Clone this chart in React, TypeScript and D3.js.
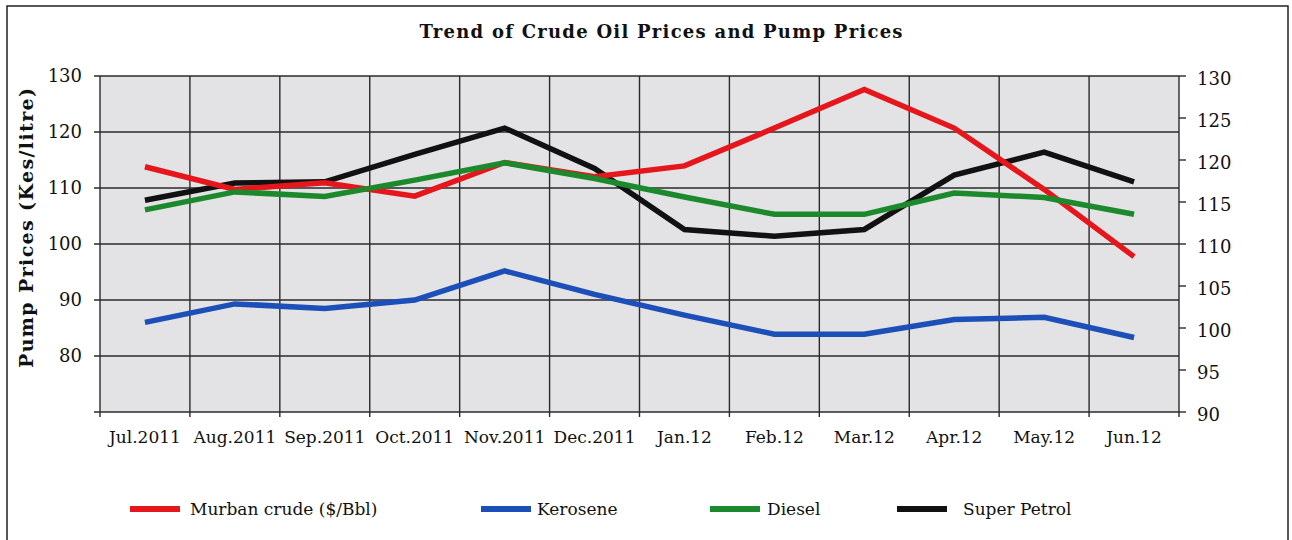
import React from "react";
import * as d3 from "d3";

const categories = ["Jul.2011", "Aug.2011", "Sep.2011", "Oct.2011", "Nov.2011", "Dec.2011", "Jan.12", "Feb.12", "Mar.12", "Apr.12", "May.12", "Jun.12"];
// Murban crude ($/Bbl) – right axis
const murban = [119.2, 116.5, 117.3, 115.7, 119.7, 118.0, 119.3, 123.8, 128.4, 123.8, 116.5, 108.5];
// Pump prices (Kes/litre) – left axis
const kerosene = [86.0, 89.3, 88.5, 90.0, 95.2, 91.0, 87.3, 83.9, 83.9, 86.5, 86.9, 83.3];
const diesel = [106.1, 109.3, 108.5, 111.4, 114.5, 111.7, 108.4, 105.3, 105.3, 109.1, 108.3, 105.3];
const superPetrol = [107.8, 110.9, 111.1, 116.0, 120.7, 113.5, 102.6, 101.4, 102.6, 112.3, 116.4, 111.1];

const leftTicks = [70, 80, 90, 100, 110, 120, 130];
const leftLabels = [80, 90, 100, 110, 120, 130];
const rightTicks = [90, 95, 100, 105, 110, 115, 120, 125, 130];

const title = "Trend of Crude Oil Prices and Pump Prices";
const yTitle = "Pump Prices (Kes/litre)";

const colors = { murban: "#e5171c", kerosene: "#1d4fb8", diesel: "#1c8a2c", petrol: "#111111" };

const FONT = "'DejaVu Serif', serif";

export default function App() {
  const L = 100, R = 1179, T = 76, B = 412;
  const x = d3.scaleBand<string>().domain(categories).range([L, R]).padding(0);
  const bw = x.bandwidth();
  const cx = (i: number) => (x(categories[i]) as number) + bw / 2;
  const yL = d3.scaleLinear().domain([70, 130]).range([B, T]);
  const yR = d3.scaleLinear().domain([90, 130]).range([B, T]);

  const lineL = d3.line<number>().x((_, i) => cx(i)).y((d) => yL(d));
  const lineR = d3.line<number>().x((_, i) => cx(i)).y((d) => yR(d));

  const series = [
    { name: "Murban crude ($/Bbl)", color: colors.murban, d: lineR(murban), lx: 130, tx: 190 },
    { name: "Kerosene", color: colors.kerosene, d: lineL(kerosene), lx: 481, tx: 537 },
    { name: "Diesel", color: colors.diesel, d: lineL(diesel), lx: 710, tx: 767 },
    { name: "Super Petrol", color: colors.petrol, d: lineL(superPetrol), lx: 897, tx: 963 },
  ];
  const drawOrder = [series[1], series[3], series[0], series[2]];

  const bounds = categories.map((c) => x(c) as number).concat([R]);

  return (
    <svg width={1292} height={540} style={{ position: "absolute", left: 0, top: 0 }} fontFamily={FONT}>
      <rect x={0} y={0} width={1292} height={540} fill="#ffffff" />
      <rect x={7} y={6} width={1281} height={545} fill="none" stroke="#222" strokeWidth={1.5} />
      <text x={661} y={38} textAnchor="middle" fontSize={18} fontWeight="bold" fill="#111" textLength={483} lengthAdjust="spacing">{title}</text>

      <rect x={L} y={T} width={R - L} height={B - T} fill="#e3e3e6" />
      {leftTicks.map((t) => (
        <line key={"h" + t} x1={L - 6} x2={R} y1={yL(t)} y2={yL(t)} stroke="#2a2a2a" strokeWidth={1.4} />
      ))}
      {bounds.map((b, i) => (
        <line key={"v" + i} x1={b} x2={b} y1={T} y2={B + 5} stroke="#2a2a2a" strokeWidth={1.4} />
      ))}
      {rightTicks.map((t) => (
        <g key={"r" + t}>
          <line x1={R} x2={R + 7} y1={yR(t)} y2={yR(t)} stroke="#2a2a2a" strokeWidth={1.4} />
          <text x={1197} y={yR(t) + 4} dominantBaseline="middle" fontSize={18} fill="#111">{t}</text>
        </g>
      ))}
      {leftLabels.map((t) => (
        <text key={"l" + t} x={82} y={yL(t) + 1} textAnchor="end" dominantBaseline="middle" fontSize={18} fill="#111">{t}</text>
      ))}
      <text transform="translate(33,228) rotate(-90)" textAnchor="middle" fontSize={19} fontWeight="bold" fill="#111" textLength={280} lengthAdjust="spacing">{yTitle}</text>
      {categories.map((c, i) => (
        <text key={c} x={cx(i)} y={443} textAnchor="middle" fontSize={17} fill="#111">{c}</text>
      ))}

      {drawOrder.map((s) => (
        <path key={s.name} d={s.d as string} fill="none" stroke={s.color} strokeWidth={5.5} strokeLinejoin="miter" />
      ))}

      {series.map((s) => (
        <g key={"lg" + s.name}>
          <line x1={s.lx} x2={s.lx + 50} y1={509} y2={509} stroke={s.color} strokeWidth={6} />
          <text x={s.tx} y={515} fontSize={17} fill="#111">{s.name}</text>
        </g>
      ))}
    </svg>
  );
}
